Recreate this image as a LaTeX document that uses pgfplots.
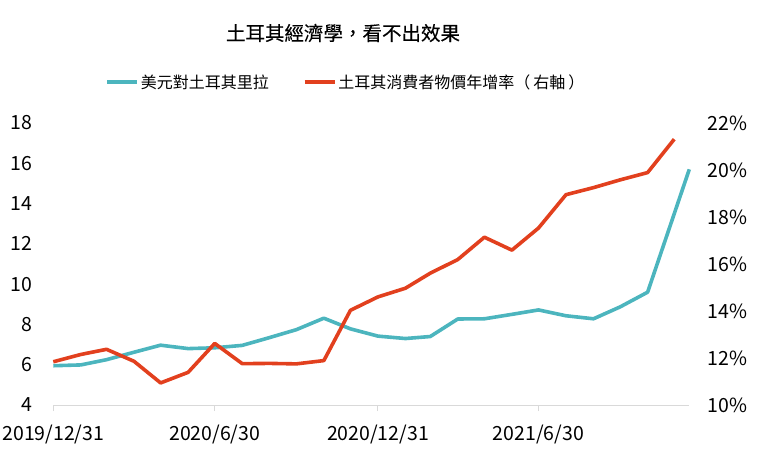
\documentclass[border=0pt]{standalone}
\usepackage{pgfplots}
\pgfplotsset{compat=1.18}
\usepackage{fontspec}
\setmainfont{Noto Sans CJK TC}
\newfontfamily\titlefont[FakeBold=0.3]{Noto Sans CJK TC}
\definecolor{tealc}{HTML}{4CB5BE}
\definecolor{redc}{HTML}{E2401E}
\definecolor{axc}{HTML}{D9D9D9}
\pgfplotstableread{
d v
0 5.95
31 5.99
60 6.25
91 6.62
121 6.97
152 6.80
182 6.84
213 6.96
244 7.35
274 7.74
305 8.31
335 7.78
366 7.42
397 7.30
425 7.40
456 8.27
486 8.28
517 8.50
547 8.72
578 8.43
609 8.28
639 8.87
670 9.60
717 15.70
}\fx
\pgfplotstableread{
d v
0 11.84
31 12.15
60 12.37
91 11.86
121 10.94
152 11.39
182 12.62
213 11.76
244 11.77
274 11.75
305 11.89
335 14.03
366 14.60
397 14.97
425 15.61
456 16.19
486 17.14
517 16.59
547 17.53
578 18.95
609 19.25
639 19.58
670 19.89
700 21.31
}\cpi
\begin{document}
\begin{tikzpicture}
\useasboundingbox (0,0) rectangle (760pt,456pt);
\node[font=\titlefont\fontsize{19.5}{22}\selectfont] at (343pt,423pt) {土耳其經濟學，看不出效果};
\begin{axis}[
  at={(53.3pt,51pt)}, anchor=south west,
  width=636pt, height=282pt, scale only axis,
  xmin=0, xmax=717, ymin=4, ymax=18,
  ytick={4,6,...,18},
  xtick={0,182,366,547},
  xticklabels={2019/12/31,2020/6/30,2020/12/31,2021/6/30},
  axis x line*=bottom, axis y line*=left,
  y axis line style={draw=none},
  x axis line style={draw=axc, line width=1pt, -},
  xtick style={draw=axc, line width=1pt},
  ytick style={draw=none},
  tick align=outside, major tick length=6pt,
  /pgf/number format/assume math mode=true,
  tick label style={font=\fontsize{19.5}{22}\selectfont, text=black},
  yticklabel style={inner sep=0pt, xshift=-15pt},
  xticklabel style={inner sep=0pt, yshift=-14pt},
  clip=false,
  legend columns=2,
  legend style={at={(0.46,1.145)}, anchor=center, draw=none, fill=none,
    font=\fontsize{16}{19}\selectfont, /tikz/every even column/.append style={column sep=32pt}},
  legend image code/.code={\draw[#1] (0pt,0pt) -- (30pt,0pt);},
]
\addplot[tealc, line width=3.6pt, line join=round] table[x=d,y=v] {\fx};
\addlegendentry{美元對土耳其里拉}
\addlegendimage{redc, line width=3.6pt}
\addlegendentry{土耳其消費者物價年增率（\hspace{3pt}右軸\hspace{3pt}）}
\end{axis}
\begin{axis}[
  at={(53.3pt,51pt)}, anchor=south west,
  width=636pt, height=282pt, scale only axis,
  xmin=0, xmax=717, ymin=10, ymax=22,
  ytick={10,12,...,22},
  yticklabels={10\%,12\%,14\%,16\%,18\%,20\%,22\%},
  hide x axis,
  axis y line*=right,
  y axis line style={draw=none},
  ytick style={draw=none},
  tick label style={font=\fontsize{19.5}{22}\selectfont, text=black},
  yticklabel style={inner sep=0pt, xshift=18pt},
  clip=false,
]
\addplot[redc, line width=3.6pt, line join=round] table[x=d,y=v] {\cpi};
\end{axis}
\end{tikzpicture}
\end{document}
